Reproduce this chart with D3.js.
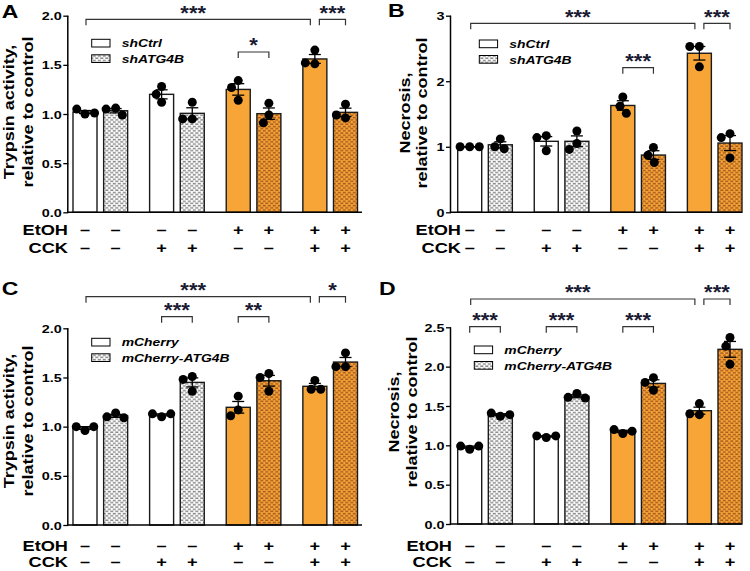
<!DOCTYPE html>
<html><head><meta charset="utf-8">
<script src="https://cdn.jsdelivr.net/npm/d3@7"></script>
<style>
body{margin:0;background:#fff}
svg{display:block}
text{font-family:"Liberation Sans",Arial,sans-serif;font-weight:bold;fill:#000}
</style>
</head><body>
<svg id="chart" width="750" height="571"></svg>
<script>
// ---------------- data ----------------
const etohRow = ["–","–","–","–","+","+","+","+"];
const cckRow  = ["–","–","+","+","–","–","+","+"];
const rowLabels = ["EtOH","CCK"];
const legendSh = ["shCtrl","shATG4B"];
const legendMch = ["mCherry","mCherry-ATG4B"];
const yLabelTrypsin = ["Trypsin activity,","relative to control"];
const yLabelNecrosis = ["Necrosis,","relative to control"];
const ticksTrypsin = [0, 0.5, 1, 1.5, 2];
const ticksNecrosisB = [0, 1, 2, 3];
const ticksNecrosisD = [0, 0.5, 1, 1.5, 2, 2.5];

// individual replicate values (3 per bar)
const trypsinSh = [
  [1.00,1.05,1.01],[1.06,1.05,0.99],[1.28,1.20,1.12],[1.12,0.95,0.95],
  [1.34,1.27,1.14],[1.11,0.99,0.91],[1.65,1.51,1.52],[1.10,0.96,0.99]
];
const necrosisSh = [
  [1.00,1.00,1.00],[1.12,1.00,0.97],[1.17,1.14,0.94],[1.24,1.05,0.96],
  [1.76,1.62,1.51],[0.99,0.87,0.76],[2.53,2.53,2.22],[1.20,1.14,0.83]
];
const trypsinMch = [
  [0.96,1.00,1.00],[1.14,1.10,1.09],[1.10,1.13,1.13],[1.51,1.48,1.36],
  [1.31,1.17,1.11],[1.54,1.50,1.36],[1.47,1.38,1.38],[1.75,1.61,1.61]
];
const necrosisMch = [
  [0.95,0.99,0.99],[1.37,1.41,1.39],[1.10,1.12,1.12],[1.66,1.61,1.60],
  [1.15,1.20,1.18],[1.86,1.80,1.70],[1.53,1.39,1.40],[2.37,2.26,2.03]
];

// significance brackets: bar index pairs, stars, bracket level
const sigA = [{a:0,b:6,s:"***",lv:0},{a:6,b:7,s:"***",lv:0},{a:4,b:5,s:"*",lv:1}];
const sigB = [{a:0,b:6,s:"***",lv:0},{a:6,b:7,s:"***",lv:0},{a:4,b:5,s:"***",lv:1}];
const sigC = [{a:0,b:6,s:"***",lv:0},{a:6,b:7,s:"*",lv:0},{a:2,b:3,s:"***",lv:1},{a:4,b:5,s:"**",lv:1}];
const sigD = [{a:0,b:6,s:"***",lv:0},{a:6,b:7,s:"***",lv:0},{a:0,b:1,s:"***",lv:1},{a:2,b:3,s:"***",lv:1},{a:4,b:5,s:"***",lv:1}];

// ---------------- layout ----------------
const ORANGE = "#F7A537";
const panels = [
  {letter:"A", lx:1.7, ly:18.3, data:trypsinSh, ticks:ticksTrypsin, fmt:".1f", yMax:2,
   axisX:68.3, xEnd:362, yTop:15.7, yBot:212.3, c0:85, c1:345.5,
   ylab:yLabelTrypsin, ylabX:[14.2,33], ylabY:112, legend:legendSh, legX:91.7, legY:39.3,
   rowY:[230,248.3], rowLabX:68, sig:sigA, levels:[19.3,52]},
  {letter:"B", lx:388, ly:17, data:necrosisSh, ticks:ticksNecrosisB, fmt:"d", yMax:3,
   axisX:451, xEnd:741.7, yTop:15.7, yBot:212.3, c0:469.7, c1:730,
   ylab:yLabelNecrosis, ylabX:[409.5,426.5], ylabY:113, legend:legendSh, legX:479.3, legY:40,
   rowY:[230,247.7], rowLabX:461, sig:sigB, levels:[23.3,67.7]},
  {letter:"C", lx:1.7, ly:295, data:trypsinMch, ticks:ticksTrypsin, fmt:".1f", yMax:2,
   axisX:68.3, xEnd:362, yTop:328.3, yBot:525, c0:85, c1:345.5,
   ylab:yLabelTrypsin, ylabX:[14.2,33], ylabY:421, legend:legendMch, legX:91.7, legY:338.3,
   rowY:[546,561.5], rowLabX:68, sig:sigC, levels:[296.7,316.7]},
  {letter:"D", lx:379, ly:295, data:necrosisMch, ticks:ticksNecrosisD, fmt:".1f", yMax:2.5,
   axisX:451, xEnd:741.7, yTop:327.3, yBot:524, c0:469.7, c1:730,
   ylab:yLabelNecrosis, ylabX:[399,416.5], ylabY:412, legend:legendMch, legX:474.3, legY:346,
   rowY:[546,561.5], rowLabX:452, sig:sigD, levels:[299,326.7]}
];

const svg = d3.select("#chart");
const defs = svg.append("defs");
function makePattern(id, bg, fg){
  const p = defs.append("pattern").attr("id", id).attr("patternUnits","userSpaceOnUse")
    .attr("width", 5).attr("height", 4.4);
  p.append("rect").attr("width",5).attr("height",4.4).attr("fill",bg);
  [[0.3,0.3],[2.8,2.5],[-2.2,2.5]].forEach(([x,y])=>
    p.append("rect").attr("x",x).attr("y",y).attr("width",3).attr("height",1.5).attr("fill",fg));
}
makePattern("pgrey", "#ffffff", "#8c8c8c");
makePattern("porange", ORANGE, "#A85C1E");

function stext(g, x, y, str, o){
  o = o || {};
  const sx = o.sx || 1.24;
  let tr = `translate(${x},${y})`;
  if (o.rot) tr += ` rotate(${o.rot})`;
  tr += ` scale(${sx},1)`;
  return g.append("text").attr("transform", tr)
    .attr("text-anchor", o.anchor || "start")
    .style("font-size", (o.size || 12) + "px")
    .style("font-style", o.italic ? "italic" : "normal")
    .style("fill", o.fill || "#000")
    .text(str);
}

function swarm(vals, y, D){
  const placed = [];
  return vals.map(v => {
    const py = y(v);
    const cands = [0];
    placed.forEach(p => {
      const dy = Math.abs(py - p.y);
      if (dy < D){ const dx = Math.sqrt(D*D - dy*dy); cands.push(p.x + dx, p.x - dx); }
    });
    cands.sort((a,b) => Math.abs(a) - Math.abs(b) || a - b);
    const cx = cands.find(c => placed.every(p => Math.hypot(c - p.x, py - p.y) >= D - 0.01));
    const o = {x: cx, y: py}; placed.push(o); return o;
  });
}

panels.forEach(P => {
  const g = svg.append("g");
  const x = d3.scaleLinear().domain([0, 8.5]).range([P.c0, P.c1]);
  const y = d3.scaleLinear().domain([0, P.yMax]).range([P.yBot, P.yTop]);
  const pos = i => Math.floor(i/2)*2.5 + (i % 2);
  const barW = 24;

  // panel letter
  stext(g, P.lx, P.ly, P.letter, {size:18.6});

  // y axis
  const sxT = 1.24;
  const ax = g.append("g").attr("transform", `translate(${P.axisX},0)`)
    .call(d3.axisLeft(y).tickValues(P.ticks).tickFormat(d3.format(P.fmt)).tickSize(5).tickPadding(1));
  ax.select(".domain").attr("stroke","#000").attr("stroke-width",1.5).attr("d", `M-0.5,${P.yTop}V${P.yBot}`);
  ax.selectAll(".tick line").attr("stroke","#000").attr("stroke-width",1.3);
  ax.selectAll(".tick text")
    .attr("x", null).attr("dy", null)
    .attr("transform", `translate(-6.5,4.1) scale(${sxT},1)`)
    .attr("text-anchor","end")
    .style("font-size","11.6px").style("font-family",'"Liberation Sans",Arial,sans-serif')
    .style("font-weight","bold").attr("fill","#000");

  // y label
  P.ylab.forEach((t, k) => stext(g, P.ylabX[k], P.ylabY, t, {size:15, rot:-90, anchor:"middle", sx:1.2}));

  // bars
  const stats = P.data.map(v => ({mean: d3.mean(v), sem: d3.deviation(v)/Math.sqrt(v.length)}));
  g.selectAll("rect.bar").data(stats).join("rect").attr("class","bar")
    .attr("x", (d,i) => x(pos(i)) - barW/2)
    .attr("width", barW)
    .attr("y", d => y(d.mean))
    .attr("height", d => y(0) - y(d.mean))
    .attr("fill", (d,i) => etohRow[i] === "+" ? (i % 2 ? "url(#porange)" : ORANGE) : (i % 2 ? "url(#pgrey)" : "#fff"))
    .attr("stroke", "#1a1a1a").attr("stroke-width", 1.4);

  // x axis line
  g.append("line").attr("x1", P.axisX - 1.2).attr("x2", P.xEnd).attr("y1", y(0)).attr("y2", y(0))
    .attr("stroke","#000").attr("stroke-width",1.6);

  // error bars
  stats.forEach((d,i) => {
    const cx = x(pos(i)), lo = y(d.mean - d.sem), hi = y(d.mean + d.sem);
    g.append("line").attr("x1",cx).attr("x2",cx).attr("y1",lo).attr("y2",hi).attr("stroke","#000").attr("stroke-width",1.3);
    [lo,hi].forEach(yy => g.append("line").attr("x1",cx-6).attr("x2",cx+6).attr("y1",yy).attr("y2",yy)
      .attr("stroke","#000").attr("stroke-width",1.3));
  });

  // points
  P.data.forEach((vals,i) => {
    const cx = x(pos(i));
    swarm(vals, y, 9.6).forEach(p => g.append("circle").attr("cx", cx + p.x).attr("cy", p.y).attr("r", 4.5).attr("fill","#000"));
  });

  // legend
  P.legend.forEach((t,k) => {
    const ry = P.legY + k*15.5;
    g.append("rect").attr("x", P.legX).attr("y", ry).attr("width", 18.3).attr("height", 7.7)
      .attr("fill", k ? "url(#pgrey)" : "#fff").attr("stroke","#000").attr("stroke-width",1);
    stext(g, P.legX + 30, ry + 8, t, {size:11.3, italic:true, sx:1.23});
  });

  // treatment rows
  [etohRow, cckRow].forEach((row, r) => {
    stext(g, P.rowLabX, P.rowY[r] + 5, rowLabels[r], {size:14, anchor:"end", sx:1.3});
    row.forEach((s,i) => stext(g, x(pos(i)), P.rowY[r] + 5, s, {size:14, anchor:"middle", sx:1.3}));
  });

  // significance brackets
  P.sig.forEach(b => {
    const same = P.sig.filter(o => o !== b && o.lv === b.lv);
    const x1 = x(pos(b.a)) + (same.some(o => o.b === b.a) ? 4.5 : (b.b - b.a > 1 ? 1 : 0));
    const x2 = x(pos(b.b)) - (same.some(o => o.a === b.b) ? 4.5 : 0);
    const yy = P.levels[b.lv];
    g.append("path").attr("d", `M${x1},${yy+6}V${yy}H${x2}V${yy+6}`)
      .attr("fill","none").attr("stroke","#333").attr("stroke-width",1.2);
    const mid = (x1 + x2)/2 - (b.b - b.a > 1 ? 5 : 0);
    stext(g, mid, yy - 11 + 11.4, b.s, {size:20, anchor:"middle", sx:1.1, fill:"#1a1a33"});
  });
});
</script>
</body></html>
